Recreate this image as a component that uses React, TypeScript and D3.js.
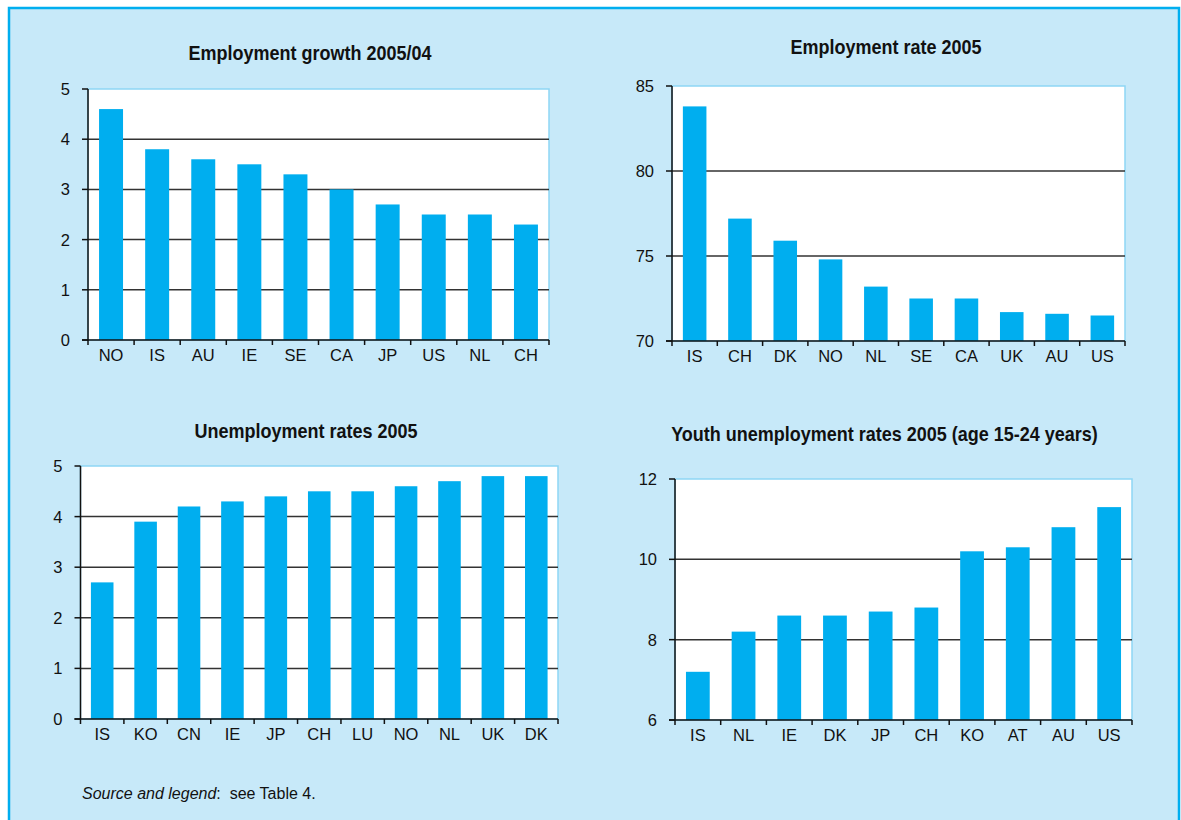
import React from "react";
import * as d3 from "d3";

const growthCats = ["NO", "IS", "AU", "IE", "SE", "CA", "JP", "US", "NL", "CH"];
const growthVals = [4.6, 3.8, 3.6, 3.5, 3.3, 3.0, 2.7, 2.5, 2.5, 2.3];
const growthTicks = [0, 1, 2, 3, 4, 5];

const rateCats = ["IS", "CH", "DK", "NO", "NL", "SE", "CA", "UK", "AU", "US"];
const rateVals = [83.8, 77.2, 75.9, 74.8, 73.2, 72.5, 72.5, 71.7, 71.6, 71.5];
const rateTicks = [70, 75, 80, 85];

const unempCats = ["IS", "KO", "CN", "IE", "JP", "CH", "LU", "NO", "NL", "UK", "DK"];
const unempVals = [2.7, 3.9, 4.2, 4.3, 4.4, 4.5, 4.5, 4.6, 4.7, 4.8, 4.8];
const unempTicks = [0, 1, 2, 3, 4, 5];

const youthCats = ["IS", "NL", "IE", "DK", "JP", "CH", "KO", "AT", "AU", "US"];
const youthVals = [7.2, 8.2, 8.6, 8.6, 8.7, 8.8, 10.2, 10.3, 10.8, 11.3];
const youthTicks = [6, 8, 10, 12];

const FONT = "'Liberation Sans', Arial, sans-serif";
const BAR = "#00AEEF";
const PANEL = "#C7E9F9";
const PLOT_BORDER = "#8ED6F5";

type ChartProps = {
  title: string;
  titleX: number;
  titleY: number;
  cats: string[];
  vals: number[];
  ticks: number[];
  left: number;
  top: number;
  right: number;
  bottom: number;
};

function BarChart(p: ChartProps) {
  const n = p.cats.length;
  const x = d3
    .scaleBand<string>()
    .domain(p.cats)
    .range([p.left, p.right])
    .paddingInner(0.48)
    .paddingOuter(0.24);
  const y = d3
    .scaleLinear()
    .domain([p.ticks[0], p.ticks[p.ticks.length - 1]])
    .range([p.bottom, p.top]);
  const step = x.step();
  const start = x.range()[0] + (x.range()[1] - x.range()[0] - step * n) / 2;
  const bounds = d3.range(n + 1).map((i) => start + i * step);
  const inner = p.ticks.slice(1, -1);
  return (
    <g>
      <text
        transform={`translate(${p.titleX},${p.titleY}) scale(0.9,1)`}
        textAnchor="middle"
        fontFamily={FONT}
        fontWeight="bold"
        fontSize={20}
        fill="#111"
      >
        {p.title}
      </text>
      <rect
        x={p.left}
        y={p.top}
        width={p.right - p.left}
        height={p.bottom - p.top}
        fill="#fff"
        stroke={PLOT_BORDER}
        strokeWidth={1.5}
      />
      {inner.map((t) => (
        <line
          key={"g" + t}
          x1={p.left}
          x2={p.right}
          y1={y(t)}
          y2={y(t)}
          stroke="#333"
          strokeWidth={1.5}
        />
      ))}
      {p.cats.map((c, i) => (
        <rect
          key={c + i}
          x={x(c)}
          y={y(p.vals[i])}
          width={x.bandwidth()}
          height={p.bottom - y(p.vals[i])}
          fill={BAR}
        />
      ))}
      <line x1={p.left} x2={p.left} y1={p.top} y2={p.bottom} stroke="#111" strokeWidth={1.5} />
      <line x1={p.left - 6} x2={p.right} y1={p.bottom} y2={p.bottom} stroke="#111" strokeWidth={1.5} />
      {p.ticks.map((t) => (
        <g key={"t" + t}>
          <line x1={p.left - 6} x2={p.left} y1={y(t)} y2={y(t)} stroke="#111" strokeWidth={1.5} />
          <text
            x={p.left - 18}
            y={y(t)}
            dy="0.36em"
            textAnchor="end"
            fontFamily={FONT}
            fontSize={16.5}
            fill="#111"
          >
            {t}
          </text>
        </g>
      ))}
      {bounds.map((b, i) => (
        <line key={"b" + i} x1={b} x2={b} y1={p.bottom} y2={p.bottom + 5} stroke="#111" strokeWidth={1.5} />
      ))}
      {p.cats.map((c, i) => (
        <text
          key={"l" + c + i}
          x={(x(c) as number) + x.bandwidth() / 2}
          y={p.bottom + 21}
          textAnchor="middle"
          fontFamily={FONT}
          fontSize={16.5}
          fill="#111"
        >
          {c}
        </text>
      ))}
    </g>
  );
}

export default function App() {
  return (
    <svg
      width={1181}
      height={820}
      style={{ position: "absolute", left: 0, top: 0 }}
    >
      <rect x={0} y={0} width={1181} height={820} fill="#fff" />
      <rect x={9} y={8} width={1170} height={830} fill={PANEL} stroke={BAR} strokeWidth={2.5} />
      <BarChart
        title="Employment growth 2005/04"
        titleX={310}
        titleY={60}
        cats={growthCats}
        vals={growthVals}
        ticks={growthTicks}
        left={88}
        top={89}
        right={549}
        bottom={340}
      />
      <BarChart
        title="Employment rate 2005"
        titleX={886}
        titleY={54}
        cats={rateCats}
        vals={rateVals}
        ticks={rateTicks}
        left={672}
        top={86}
        right={1125}
        bottom={341}
      />
      <BarChart
        title="Unemployment rates 2005"
        titleX={306}
        titleY={438}
        cats={unempCats}
        vals={unempVals}
        ticks={unempTicks}
        left={80.5}
        top={466}
        right={558}
        bottom={719}
      />
      <BarChart
        title="Youth unemployment rates 2005 (age 15-24 years)"
        titleX={884.5}
        titleY={441}
        cats={youthCats}
        vals={youthVals}
        ticks={youthTicks}
        left={675}
        top={479}
        right={1132}
        bottom={720}
      />
      <text x={82} y={799} fontFamily={FONT} fontSize={16} fill="#111" style={{ whiteSpace: "pre" }}>
        <tspan fontStyle="italic">Source and legend</tspan>
        <tspan>{":  see Table 4."}</tspan>
      </text>
    </svg>
  );
}
